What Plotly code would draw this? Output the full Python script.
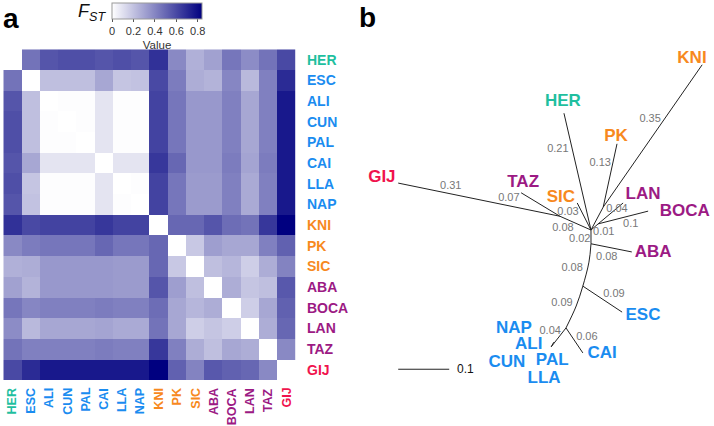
import math
import plotly.graph_objects as go

# ---------------- data ----------------
pops = ["HER", "ESC", "ALI", "CUN", "PAL", "CAI", "LLA", "NAP",
        "KNI", "PK", "SIC", "ABA", "BOCA", "LAN", "TAZ", "GIJ"]
pop_group = ["her", "blue", "blue", "blue", "blue", "blue", "blue", "blue",
             "orange", "orange", "orange", "purple", "purple", "purple", "purple", "gij"]
group_color = {"her": "#1fbf9f", "blue": "#1a8cf0", "orange": "#f7891e",
               "purple": "#9c1a84", "gij": "#f0134d"}

# pairwise FST, upper triangle (values for the populations after the row's one)
fst_HER = [0.46, 0.56, 0.58, 0.58, 0.56, 0.58, 0.56, 0.68, 0.39, 0.26, 0.31, 0.45, 0.38, 0.46, 0.60]
fst_ESC = [0.21, 0.21, 0.21, 0.29, 0.19, 0.20, 0.60, 0.43, 0.27, 0.25, 0.40, 0.23, 0.42, 0.70]
fst_ALI = [0.005, 0.005, 0.09, 0.005, 0.005, 0.62, 0.45, 0.34, 0.34, 0.42, 0.29, 0.42, 0.76]
fst_CUN = [0.005, 0.09, 0.005, 0.005, 0.62, 0.45, 0.34, 0.34, 0.42, 0.29, 0.42, 0.76]
fst_PAL = [0.09, 0.005, 0.005, 0.62, 0.45, 0.34, 0.34, 0.42, 0.29, 0.42, 0.76]
fst_CAI = [0.09, 0.09, 0.66, 0.50, 0.34, 0.34, 0.43, 0.30, 0.43, 0.76]
fst_LLA = [0.005, 0.62, 0.45, 0.33, 0.33, 0.42, 0.28, 0.42, 0.76]
fst_NAP = [0.62, 0.45, 0.33, 0.33, 0.42, 0.28, 0.42, 0.76]
fst_KNI = [0.50, 0.50, 0.56, 0.48, 0.46, 0.66, 0.84]
fst_PK = [0.18, 0.32, 0.29, 0.29, 0.42, 0.52]
fst_SIC = [0.21, 0.24, 0.16, 0.27, 0.41]
fst_ABA = [0.27, 0.19, 0.21, 0.55]
fst_BOCA = [0.16, 0.29, 0.52]
fst_LAN = [0.27, 0.50]
fst_TAZ = [0.39]
fst_rows = [fst_HER, fst_ESC, fst_ALI, fst_CUN, fst_PAL, fst_CAI, fst_LLA, fst_NAP,
            fst_KNI, fst_PK, fst_SIC, fst_ABA, fst_BOCA, fst_LAN, fst_TAZ]

cbar_ticks = [0, 0.2, 0.4, 0.6, 0.8]

# unrooted tree (positions in branch-length units)
node_names = ["hub", "GT", "GIJ", "TAZ", "SIC", "HER", "PKKNI", "PK", "KNI", "LB", "LAN", "BOCA",
              "ABAn", "ABA", "bend1", "ESCn", "ESC", "bend2", "CAIn", "CAI", "GRP", "stub"]
node_x = [0.0, -0.061, -0.378, -0.137, -0.027, -0.053, 0.024, 0.051, 0.218, 0.014, 0.063, 0.112,
          0.0, 0.080, -0.004, -0.016, 0.061, -0.029, -0.049, -0.016, -0.078, -0.073]
node_y = [0.0, 0.027, 0.092, 0.073, 0.053, 0.229, 0.045, 0.169, 0.324, 0.012, 0.053, 0.037,
          -0.027, -0.043, -0.063, -0.110, -0.161, -0.149, -0.192, -0.241, -0.229, -0.220]
edge_parent = ["hub", "GT", "GT", "hub", "hub", "hub", "PKKNI", "PKKNI", "hub", "LB", "LB",
               "hub", "ABAn", "ESCn", "CAIn", "CAIn", "GRP"]
edge_child = ["GT", "GIJ", "TAZ", "SIC", "HER", "PKKNI", "PK", "KNI", "LB", "LAN", "BOCA",
              "ABAn", "ABA", "ESC", "CAI", "GRP", "stub"]
trunk_path = ["ABAn", "bend1", "ESCn", "bend2", "CAIn"]

branch_labels = ["0.35", "0.21", "0.13", "0.31", "0.07", "0.03", "0.04", "0.1", "0.08",
                 "0.01", "0.02", "0.08", "0.08", "0.09", "0.09", "0.04", "0.06"]
branch_label_x = [0.116, -0.065, 0.018, -0.275, -0.161, -0.045, 0.051, 0.078, -0.055,
                  0.025, -0.022, 0.031, -0.037, 0.045, -0.057, -0.080, -0.008]
branch_label_y = [0.218, 0.159, 0.131, 0.086, 0.063, 0.035, 0.041, 0.012, 0.004,
                  -0.004, -0.018, -0.053, -0.075, -0.125, -0.143, -0.198, -0.210]

tip_names = ["KNI", "HER", "PK", "GIJ", "TAZ", "SIC", "LAN", "BOCA", "ABA", "ESC", "CAI",
             "NAP", "ALI", "CUN", "PAL", "LLA"]
tip_label_x = [0.198, -0.055, 0.049, -0.410, -0.133, -0.059, 0.102, 0.184, 0.122, 0.102, 0.022,
               -0.151, -0.122, -0.165, -0.076, -0.092]
tip_label_y = [0.335, 0.251, 0.182, 0.102, 0.092, 0.063, 0.069, 0.035, -0.045, -0.169, -0.243,
               -0.194, -0.224, -0.261, -0.257, -0.292]

scale_len = 0.1
scale_x0 = -0.378
scale_y = -0.273

# ---------------- build ----------------
W, H = 714, 426
FONT = "Liberation Sans, Arial, Helvetica, sans-serif"
n = len(pops)
z = [[0.0] * n for _ in range(n)]
for i, row in enumerate(fst_rows):
    for k, v in enumerate(row):
        j = i + 1 + k
        z[i][j] = v
        z[j][i] = v

fig = go.Figure()
fig.add_trace(go.Heatmap(
    z=z, x=pops, y=pops, zmin=0, zmax=0.84,
    colorscale=[[0, "#ffffff"], [1, "#000080"]],
    xaxis="x", yaxis="y", hoverongaps=False,
    colorbar=dict(orientation="h", x=157 / W, xanchor="center", y=1 - 3 / H, yanchor="top",
                  len=90, lenmode="pixels", thickness=16, thicknessmode="pixels",
                  xpad=0, ypad=0, outlinewidth=1, outlinecolor="#999999",
                  tickvals=cbar_ticks, ticktext=[f"{t:g}" for t in cbar_ticks],
                  ticks="outside", ticklen=3, tickcolor="#555",
                  tickfont=dict(family=FONT, size=11, color="#333"),
                  title=dict(text="Value", side="bottom", font=dict(family=FONT, size=11.5, color="#333"))),
))

pos = {nm: (x, y) for nm, x, y in zip(node_names, node_x, node_y)}
ex, ey = [], []
for p, c in zip(edge_parent, edge_child):
    ex += [pos[p][0], pos[c][0], None]
    ey += [pos[p][1], pos[c][1], None]
fig.add_trace(go.Scatter(x=ex, y=ey, mode="lines", line=dict(color="#222", width=1),
                         xaxis="x2", yaxis="y2", hoverinfo="skip", showlegend=False))
fig.add_trace(go.Scatter(x=[pos[p][0] for p in trunk_path], y=[pos[p][1] for p in trunk_path],
                         mode="lines", line=dict(color="#222", width=1, shape="spline"),
                         xaxis="x2", yaxis="y2", hoverinfo="skip", showlegend=False))
fig.add_trace(go.Scatter(x=branch_label_x, y=branch_label_y, text=branch_labels, mode="text",
                         textfont=dict(family=FONT, size=11, color="#777"),
                         xaxis="x2", yaxis="y2", hoverinfo="skip", showlegend=False))
tip_colors = [group_color[pop_group[pops.index(t)]] for t in tip_names]
fig.add_trace(go.Scatter(x=tip_label_x, y=tip_label_y, text=[f"<b>{t}</b>" for t in tip_names],
                         mode="text", textfont=dict(family=FONT, size=17, color=tip_colors),
                         xaxis="x2", yaxis="y2", hoverinfo="skip", showlegend=False))
fig.add_trace(go.Scatter(x=[scale_x0, scale_x0 + scale_len], y=[scale_y, scale_y], mode="lines",
                         line=dict(color="#222", width=1), xaxis="x2", yaxis="y2",
                         hoverinfo="skip", showlegend=False))

ann = []
for p, g in zip(pops, pop_group):
    ann.append(dict(text=f"<b>{p}</b>", x=305 / W, xref="paper", y=p, yref="y",
                    xanchor="left", yanchor="middle", showarrow=False,
                    font=dict(family=FONT, size=14, color=group_color[g])))
    ann.append(dict(text=f"<b>{p}</b>", x=p, xref="x", y=(H - 386) / H, yref="paper",
                    xanchor="center", yanchor="top", textangle=-90, showarrow=False,
                    font=dict(family=FONT, size=12.5, color=group_color[g])))
ann.append(dict(text=f"{scale_len:g}", x=scale_x0 + scale_len + 0.012, y=scale_y, xref="x2", yref="y2",
                xanchor="left", yanchor="middle", showarrow=False,
                font=dict(family=FONT, size=12, color="#111")))
ann.append(dict(text="<b>a</b>", x=11.5 / W, y=1 - 19 / H, xref="paper", yref="paper",
                xanchor="center", yanchor="middle", showarrow=False,
                font=dict(family=FONT, size=28, color="#000")))
ann.append(dict(text="<b>b</b>", x=368 / W, y=1 - 17 / H, xref="paper", yref="paper",
                xanchor="center", yanchor="middle", showarrow=False,
                font=dict(family=FONT, size=28, color="#000")))
ann.append(dict(text="<i>F</i><sub><i>ST</i></sub>", x=92 / W, y=1 - 13 / H, xref="paper", yref="paper",
                xanchor="center", yanchor="middle", showarrow=False,
                font=dict(family=FONT, size=18, color="#111")))

fig.update_layout(
    width=W, height=H, margin=dict(l=0, r=0, t=0, b=0, autoexpand=False),
    paper_bgcolor="white", plot_bgcolor="white", showlegend=False,
    xaxis=dict(domain=[3.3 / W, 295.7 / W], visible=False, fixedrange=True),
    yaxis=dict(domain=[(H - 380) / H, (H - 49.3) / H], visible=False, autorange="reversed"),
    xaxis2=dict(domain=[0.5, 1.0], range=[-0.4588, 0.2412], visible=False),
    yaxis2=dict(domain=[0.0, 1.0], range=[-0.3843, 0.451], visible=False, anchor="x2"),
    annotations=ann,
)
fig.write_html("out.html", config={"displayModeBar": False},
               post_script="document.body.style.margin='0';document.body.style.padding='0';")
